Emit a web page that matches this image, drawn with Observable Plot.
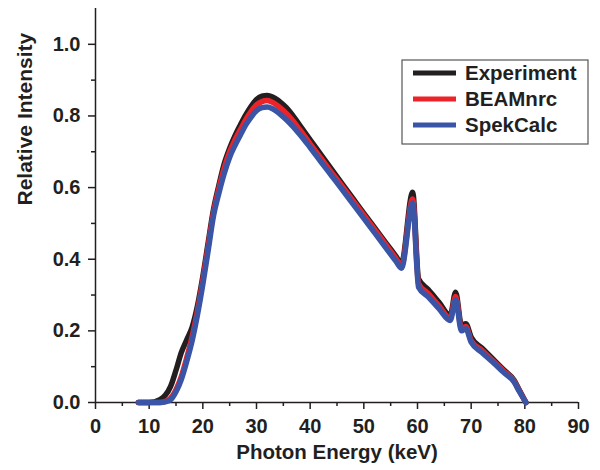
<!DOCTYPE html>
<html><head><meta charset="utf-8">
<script src="https://cdn.jsdelivr.net/npm/d3@7"></script>
<script src="https://cdn.jsdelivr.net/npm/@observablehq/plot@0.6"></script>
<style>
body{margin:0;background:#fff;}
#chart{width:600px;height:470px;}
</style></head><body><div id="chart"></div>
<script>
const energy = [8,10,12,13,14,15,16,17,18,19,20,21,22,23,24,25,26,27,28,29,30,31,32,33,34,35,36,38,40,42,44,46,48,50,52,54,56,57,59.1,60.2,62,64,66.1,67.1,68.2,69,70,72,74,76,78,79,80.2];
const experiment = [0,0,0.008,0.02,0.045,0.09,0.14,0.175,0.21,0.27,0.352,0.447,0.54,0.607,0.667,0.71,0.745,0.775,0.803,0.827,0.846,0.855,0.857,0.853,0.844,0.831,0.816,0.775,0.733,0.692,0.651,0.61,0.569,0.528,0.488,0.448,0.408,0.388,0.587,0.345,0.315,0.28,0.243,0.308,0.215,0.22,0.182,0.152,0.122,0.092,0.062,0.034,0];
const beamnrc = [0,0,0,0.003,0.012,0.036,0.073,0.125,0.183,0.256,0.342,0.437,0.532,0.598,0.655,0.7,0.734,0.762,0.79,0.813,0.831,0.84,0.843,0.838,0.828,0.815,0.8,0.763,0.722,0.682,0.642,0.603,0.563,0.523,0.483,0.443,0.402,0.381,0.568,0.332,0.304,0.27,0.235,0.296,0.206,0.212,0.173,0.146,0.117,0.089,0.06,0.032,0];
const spekcalc = [0,0,0,0.002,0.008,0.03,0.065,0.115,0.172,0.245,0.33,0.425,0.522,0.585,0.64,0.685,0.718,0.747,0.775,0.797,0.815,0.823,0.825,0.82,0.81,0.797,0.783,0.75,0.712,0.672,0.633,0.594,0.554,0.514,0.474,0.434,0.394,0.375,0.557,0.322,0.295,0.262,0.229,0.287,0.2,0.206,0.168,0.14,0.113,0.085,0.057,0.03,0];
const seriesNames = ["Experiment","BEAMnrc","SpekCalc"];
const seriesColors = ["#231f20","#ec2329","#3a55a5"];
const xTicks = [0,10,20,30,40,50,60,70,80,90];
const xMinor = [5,15,25,35,45,55,65,75,85];
const yTicks = [0,0.2,0.4,0.6,0.8,1.0];
const yMinor = [0.1,0.3,0.5,0.7,0.9];
const xTitle = "Photon Energy (keV)";
const yTitle = "Relative Intensity";

const seriesValues = [experiment, beamnrc, spekcalc];
const rows = seriesNames.flatMap((name, i) => energy.map((e, j) => ({series: name, energy: e, value: seriesValues[i][j]})));

const font = "'Liberation Sans', Arial, sans-serif";
const ink = "#231f20";
const chart = Plot.plot({
  width: 600, height: 470,
  marginLeft: 95, marginRight: 22, marginTop: 8, marginBottom: 68,
  style: {fontFamily: font, fontSize: "20px", fontWeight: "bold", color: ink, background: "#fff"},
  x: {domain: [0, 90], label: null},
  y: {domain: [0, 1.1], label: null},
  color: {domain: seriesNames, range: seriesColors},
  marks: [
    Plot.axisX(xMinor, {tickSize: 4, tickFormat: () => "", strokeWidth: 1.5, label: null}),
    Plot.axisX(xTicks, {tickSize: 7, tickPadding: 9, tickFormat: d => String(d), strokeWidth: 1.5, label: null}),
    Plot.axisY(yMinor, {tickSize: 4, tickFormat: () => "", strokeWidth: 1.5, label: null}),
    Plot.axisY(yTicks, {tickSize: 7, tickPadding: 8, tickFormat: d => d.toFixed(1), strokeWidth: 1.5, label: null}),
    Plot.ruleX([0], {stroke: ink, strokeWidth: 1.5}),
    Plot.ruleY([0], {stroke: ink, strokeWidth: 1.5}),
    Plot.line(rows, {x: "energy", y: "value", z: "series", stroke: "series", strokeWidth: 5.5, curve: "monotone-x"}),
    Plot.text([xTitle], {frameAnchor: "bottom", dy: 56, fill: ink, fontSize: 20.5, fontWeight: "bold"}),
    Plot.text([yTitle], {frameAnchor: "left", dx: -70, rotate: -90, fill: ink, fontSize: 21, fontWeight: "bold"})
  ]
});

// legend
const svg = d3.select(chart);
const lg = svg.append("g").attr("font-family", font).attr("font-size", 20.5).attr("font-weight", "bold").attr("text-anchor", "start");
lg.append("rect").attr("x", 402).attr("y", 60).attr("width", 186).attr("height", 84)
  .attr("fill", "#fff").attr("stroke", "#555").attr("stroke-width", 1.2);
seriesNames.forEach((name, i) => {
  const y = 73 + i * 26;
  lg.append("line").attr("x1", 413).attr("x2", 456).attr("y1", y).attr("y2", y)
    .attr("stroke", seriesColors[i]).attr("stroke-width", 5);
  lg.append("text").attr("x", 465).attr("y", y).attr("dy", "0.35em").attr("fill", ink).attr("text-anchor", "start").text(name);
});

document.getElementById("chart").appendChild(chart);
</script>
</body></html>
